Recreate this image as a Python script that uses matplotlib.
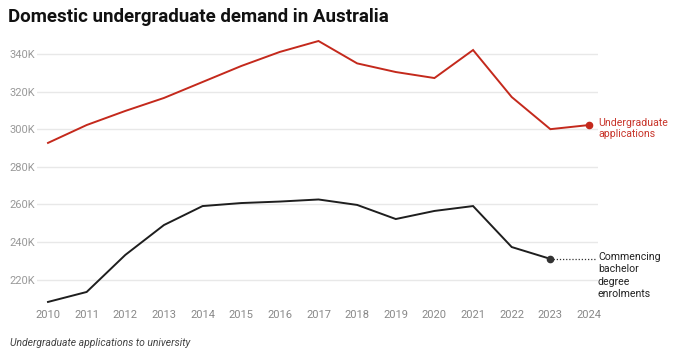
import numpy as np
import matplotlib.pyplot as plt
import matplotlib as mpl

mpl.rcParams['font.family'] = ['Roboto', 'DejaVu Sans']

years = [2010, 2011, 2012, 2013, 2014, 2015, 2016, 2017, 2018, 2019, 2020, 2021, 2022, 2023, 2024]
applications = [292.7, 302.2, 309.7, 316.6, 325.1, 333.6, 341.1, 346.9, 335.0, 330.4, 327.2, 342.1, 317.1, 300.0, 302.2]
enrol_years = [2010, 2011, 2012, 2013, 2014, 2015, 2016, 2017, 2018, 2019, 2020, 2021, 2022, 2023]
enrolments = [208.1, 213.4, 233.1, 249.0, 259.1, 260.7, 261.5, 262.6, 259.7, 252.2, 256.5, 259.1, 237.3, 231.0]
yticks = [220, 240, 260, 280, 300, 320, 340]

red = '#c4291c'
dark = '#1e1e1e'

fig = plt.figure(figsize=(6.8, 3.56), dpi=100)
ax = fig.add_axes([37/680, 1-304/356, (598-37)/680, (304-38)/356])

ax.plot(years, applications, color=red, lw=1.4, solid_joinstyle='miter')
ax.plot(enrol_years, enrolments, color=dark, lw=1.4, solid_joinstyle='miter')
ax.plot(years[-1], applications[-1], 'o', color=red, ms=4.5, clip_on=False)
ax.plot(enrol_years[-1], enrolments[-1], 'o', color='#333333', ms=4.5, clip_on=False)

xmin = 2010 - 11/38.6
xmax = 2024 + 9/38.6
ax.set_xlim(xmin, xmax)
ax.set_ylim(207, 348.5)

# dotted leader to the enrolments label
ax.plot([enrol_years[-1], xmax - 0.05], [enrolments[-1]]*2, ls=(0, (1, 1.5)), color='#333333', lw=0.9, clip_on=False)

ax.annotate('Undergraduate\napplications', xy=(xmax, applications[-1]), xytext=(0, 5.3),
            textcoords='offset points', va='top', ha='left', color='#c8352b', fontsize=7.6, linespacing=1.2)
ax.annotate('Commencing\nbachelor\ndegree\nenrolments', xy=(xmax, enrolments[-1]), xytext=(0, 5.3),
            textcoords='offset points', va='top', ha='left', color='#222222', fontsize=7.6, linespacing=1.32)

ax.set_yticks(yticks)
ax.set_yticklabels(['%dK' % v for v in yticks])
ax.set_xticks(years)
ax.set_xticklabels([str(y) for y in years])
ax.tick_params(axis='y', length=0, pad=19.5, labelsize=8, labelcolor='#999999')
for lab in ax.get_yticklabels():
    lab.set_horizontalalignment('left')
ax.tick_params(axis='x', length=0, pad=4, labelsize=8, labelcolor='#888888')
ax.grid(axis='y', color='#e8e8e8', lw=1)
ax.set_axisbelow(True)
for s in ax.spines.values():
    s.set_visible(False)

fig.text(8/680, 1-17/356, 'Domestic undergraduate demand in Australia', fontsize=13.5, fontweight='bold',
         va='center', ha='left', color='#111111')
fig.text(10/680, 1-343/356, 'Undergraduate applications to university', fontsize=7.5, style='italic',
         va='center', ha='left', color='#444444')

plt.savefig('out.png', dpi=100)
